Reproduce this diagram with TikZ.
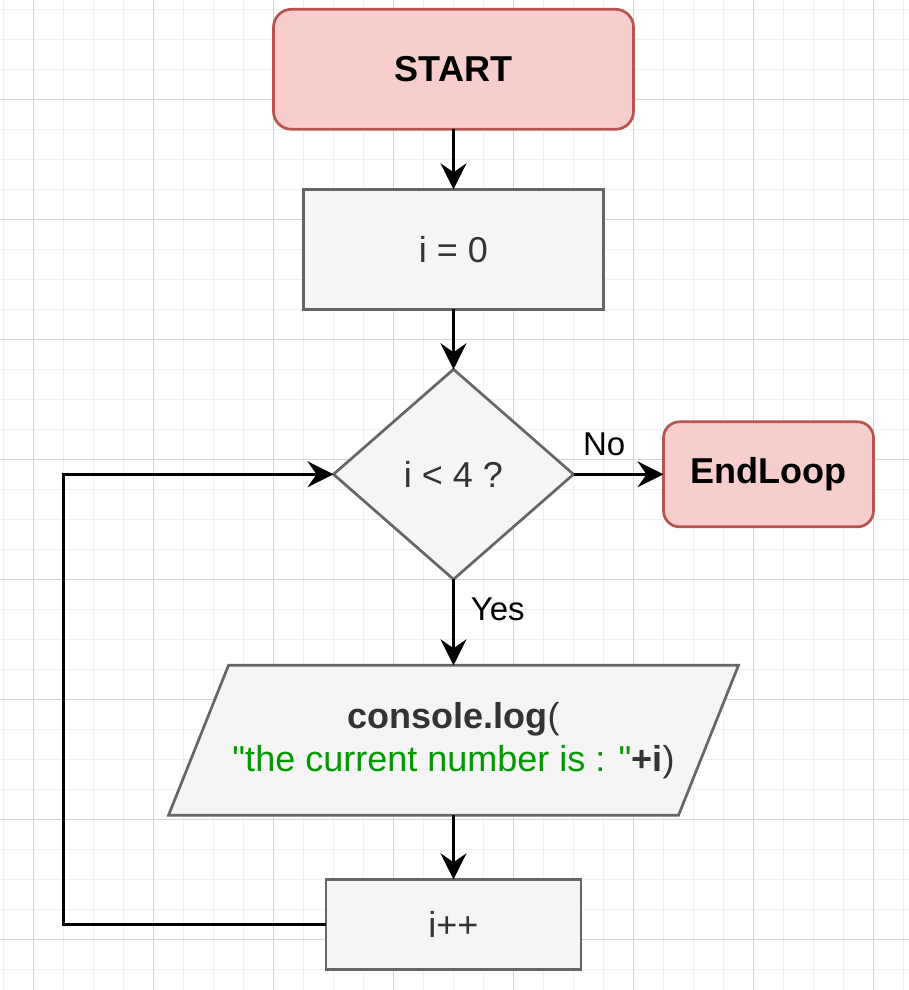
\documentclass[tikz,border=0pt]{standalone}
\usepackage{fontspec}
\setmainfont{Liberation Sans}[Ligatures=TeXOff]
\usetikzlibrary{shapes.geometric,arrows.meta,calc}
\definecolor{redfill}{HTML}{F8CECC}
\definecolor{redline}{HTML}{B85450}
\definecolor{grayfill}{HTML}{F5F5F5}
\definecolor{grayline}{HTML}{666666}
\definecolor{txt}{HTML}{333333}
\definecolor{codegreen}{HTML}{009900}
\definecolor{gridminor}{HTML}{F0F0F0}
\definecolor{gridmajor}{HTML}{D4D4D4}
\pgfdeclarelayer{gridlayer}
\pgfdeclarelayer{shapelayer}
\pgfsetlayers{gridlayer,shapelayer,main}
\begin{document}
\begin{tikzpicture}[x=1pt,y=-1pt,
  base/.style={line width=2.7pt, inner sep=0pt, outer sep=0pt, align=center, font=\fontsize{36}{43.2}\selectfont},
  term/.style={base, draw=redline, fill=redfill, rounded corners=18pt, font=\fontsize{36}{43.2}\selectfont\bfseries},
  proc/.style={base, draw=grayline, fill=grayfill, text=txt},
  dec/.style={base, diamond, draw=grayline, fill=grayfill, text=txt},
  io/.style={base, text=txt},
  ioshape/.style={line width=2.7pt, draw=grayline, fill=grayfill, line join=miter},
  conn/.style={line width=2.7pt, -{Stealth[length=26pt,width=26pt,inset=9pt]}},
  lbl/.style={font=\fontsize{33}{40}\selectfont, inner sep=0pt, text=black}
]
\begin{pgfonlayer}{gridlayer}
\path[use as bounding box] (0,0) rectangle (909,990);
\fill[white] (0,0) rectangle (909,990);
\foreach \x in {3.5,33.5,...,905} \draw[gridminor, line width=1.2pt] (\x,0) -- (\x,990);
\foreach \y in {9.3,39.3,...,990} \draw[gridminor, line width=1.2pt] (0,\y) -- (909,\y);
\foreach \x in {33.5,153.5,...,905} \draw[gridmajor, line width=1.2pt] (\x,0) -- (\x,990);
\foreach \y in {99.3,219.3,...,990} \draw[gridmajor, line width=1.2pt] (0,\y) -- (909,\y);
\end{pgfonlayer}

\node[term, minimum width=360pt, minimum height=120pt] (start) at (453.5,69.3) {START};
\node[proc, minimum width=300pt, minimum height=120pt] (init) at (453.5,249.3) {i = 0};
\node[dec, minimum width=240pt, minimum height=210pt] (cond) at (453.5,474.3) {i < 4 ?};
\node[term, minimum width=210pt, minimum height=105pt, rounded corners=16pt] (end) at (768.5,474.3) {EndLoop};
\node[io, minimum width=570pt, minimum height=150pt] (log) at (453.5,740.3)
  {{\bfseries console.log}(\\ \textcolor{codegreen}{"the current number is : "}{\bfseries +i})};
\begin{pgfonlayer}{shapelayer}
\draw[ioshape] (log.south west) -- ($(log.north west)+(60,0)$) -- (log.north east) -- ($(log.south east)+(-60,0)$) -- cycle;
\end{pgfonlayer}
\node[proc, minimum width=255pt, minimum height=90pt] (inc) at (453.5,924.3) {i++};
\coordinate (loopc) at (63.5,924.3);

\draw[conn] (start) -- (init);
\draw[conn] (init) -- (cond);
\draw[conn] (cond) -- node[lbl, pos=0.34, above=17pt] {No} (end);
\draw[conn] (cond) -- node[lbl, pos=0.5, anchor=south west, xshift=16pt] {Yes} (log);
\draw[conn] (log) -- (inc);
\draw[conn] (inc.west) -- (loopc) |- (cond.west);
\end{tikzpicture}
\end{document}
